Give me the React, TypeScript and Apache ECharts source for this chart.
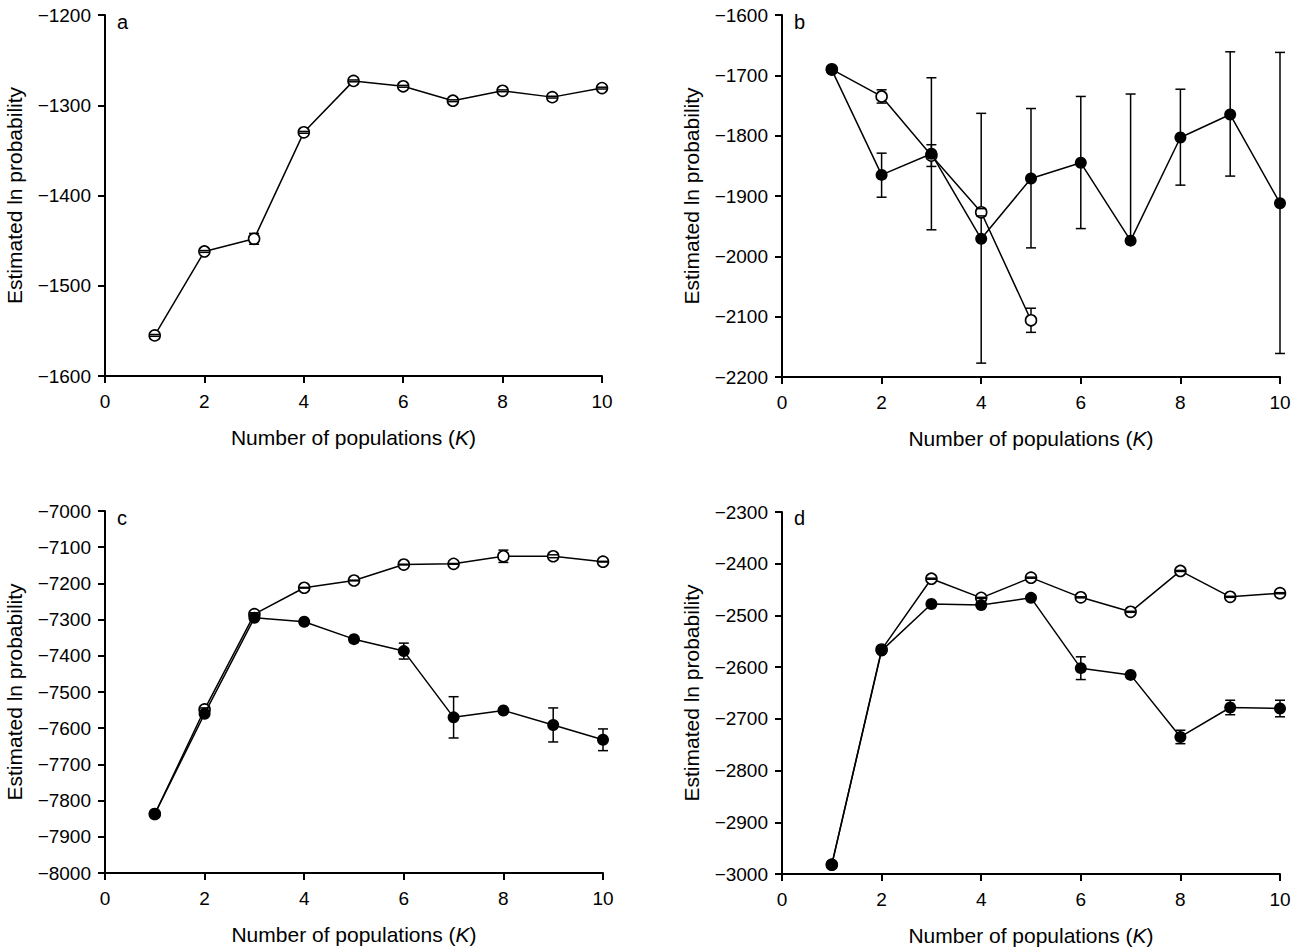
import React, { useEffect, useRef } from "react";
import * as echarts from "echarts";

const K = [1, 2, 3, 4, 5, 6, 7, 8, 9, 10];

// Panel a
const aOpen = [-1555, -1462, -1448, -1330, -1273, -1279, -1295, -1284, -1291, -1281];
const aOpenErr = [1, 1, 6, 1, 1, 1, 1, 1, 1, 1];

// Panel b
const bFilled = [-1691, -1865, -1830, -1971, -1871, -1845, -1974, -1803, -1765, -1912];
const bFilledHigh = [-1689, -1829, -1704, -1763, -1755, -1735, -1731, -1723, -1661, -1662];
const bFilledLow = [-1693, -1902, -1956, -2177, -1986, -1954, -1974, -1882, -1867, -2161];
const bOpenK = [1, 2, 3, 4, 5];
const bOpen = [-1690, -1735, -1833, -1927, -2106];
const bOpenErr = [1, 11, 18, 6, 20];

// Panel c
const cOpen = [-7837, -7548, -7285, -7212, -7192, -7148, -7146, -7125, -7125, -7140];
const cOpenErr = [1, 4, 4, 1, 1, 1, 1, 17, 4, 1];
const cFilled = [-7837, -7560, -7295, -7306, -7354, -7387, -7570, -7551, -7591, -7632];
const cFilledErr = [1, 1, 1, 1, 1, 22, 57, 1, 47, 30];

// Panel d
const dOpen = [-2982, -2566, -2429, -2466, -2427, -2465, -2493, -2414, -2464, -2457];
const dOpenErr = [1, 1, 1, 1, 1, 1, 1, 1, 1, 1];
const dFilled = [-2982, -2568, -2478, -2480, -2466, -2602, -2615, -2735, -2678, -2680];
const dFilledErr = [1, 1, 1, 1, 1, 22, 1, 13, 14, 16];

const yRanges = [
  { min: -1600, max: -1200, interval: 100 },
  { min: -2200, max: -1600, interval: 100 },
  { min: -8000, max: -7000, interval: 100 },
  { min: -3000, max: -2300, interval: 100 },
];
const panelLetters = ["a", "b", "c", "d"];

const FONT = "'Liberation Sans', Arial, Helvetica, sans-serif";

const grids = [
  { left: 105, top: 15, width: 497, height: 361 },
  { left: 782, top: 15, width: 498, height: 362 },
  { left: 105, top: 511, width: 498, height: 362 },
  { left: 782, top: 512, width: 498, height: 362 },
];
const letterPos = [
  [117, 12],
  [794, 12],
  [117, 508],
  [794, 508],
];

function symErr(ks: number[], vals: number[], errs: number[]) {
  return ks.map((k, i) => [k, vals[i] - errs[i], vals[i] + errs[i]]);
}
function asymErr(ks: number[], low: number[], high: number[]) {
  return ks.map((k, i) => [k, low[i], high[i]]);
}

function stemSeries(idx: number, data: number[][]) {
  return {
    type: "custom",
    xAxisIndex: idx,
    yAxisIndex: idx,
    z: 1,
    silent: true,
    data,
    encode: { x: 0, y: [1, 2] },
    renderItem: (params: any, api: any) => {
      const x = api.value(0);
      const lo = api.coord([x, api.value(1)]);
      const hi = api.coord([x, api.value(2)]);
      return {
        type: "line",
        shape: { x1: lo[0], y1: lo[1], x2: hi[0], y2: hi[1] },
        style: { stroke: "#000", lineWidth: 1.5 },
      };
    },
  };
}
function capSeries(idx: number, data: number[][], topOnly = false) {
  return {
    type: "custom",
    xAxisIndex: idx,
    yAxisIndex: idx,
    z: 5,
    silent: true,
    data,
    encode: { x: 0, y: [1, 2] },
    renderItem: (params: any, api: any) => {
      const x = api.value(0);
      const lo = api.coord([x, api.value(1)]);
      const hi = api.coord([x, api.value(2)]);
      const w = 5;
      const children: any[] = [
        {
          type: "line",
          shape: { x1: hi[0] - w, y1: hi[1], x2: hi[0] + w, y2: hi[1] },
          style: { stroke: "#000", lineWidth: 1.5 },
        },
      ];
      if (!topOnly) {
        children.push({
          type: "line",
          shape: { x1: lo[0] - w, y1: lo[1], x2: lo[0] + w, y2: lo[1] },
          style: { stroke: "#000", lineWidth: 1.5 },
        });
      }
      return { type: "group", children };
    },
  };
}

function lineSeries(idx: number, ks: number[], vals: number[], filled: boolean) {
  return {
    type: "line",
    xAxisIndex: idx,
    yAxisIndex: idx,
    z: filled ? 3 : 2,
    data: ks.map((k, i) => [k, vals[i]]),
    symbol: "circle",
    symbolSize: filled ? 12 : 11,
    showSymbol: true,
    lineStyle: { color: "#000", width: 1.5 },
    itemStyle: filled
      ? { color: "#000", borderColor: "#000", borderWidth: 0 }
      : { color: "#fff", borderColor: "#000", borderWidth: 1.6 },
    emphasis: { disabled: true },
  };
}

const minus = (v: number) => String(v).replace("-", "\u2212");

export default function App() {
  const ref = useRef<HTMLDivElement>(null);
  useEffect(() => {
    if (!ref.current) return;
    const chart = echarts.init(ref.current, undefined, { renderer: "svg" });

    const xAxes = grids.map((_, i) => ({
      type: "value",
      gridIndex: i,
      min: 0,
      max: 10,
      interval: 2,
      name: "Number of populations ({k|K})",
      nameLocation: "middle",
      nameGap: 51,
      nameTextStyle: {
        color: "#000",
        fontSize: 21,
        fontFamily: FONT,
        rich: { k: { fontStyle: "italic", fontSize: 21, fontFamily: FONT, color: "#000" } },
      },
      axisLine: { show: true, onZero: false, lineStyle: { color: "#000", width: 2 } },
      axisTick: { show: true, length: 7, lineStyle: { color: "#000", width: 2 } },
      axisLabel: { color: "#000", fontSize: 19, fontFamily: FONT, margin: 16 },
      splitLine: { show: false },
    }));
    const yAxes = grids.map((_, i) => ({
      type: "value",
      gridIndex: i,
      min: yRanges[i].min,
      max: yRanges[i].max,
      interval: yRanges[i].interval,
      name: "Estimated ln probability",
      nameLocation: "middle",
      nameGap: 80,
      nameTextStyle: { color: "#000", fontSize: 21, fontFamily: FONT },
      axisLine: { show: true, onZero: false, lineStyle: { color: "#000", width: 2 } },
      axisTick: { show: true, length: 7, lineStyle: { color: "#000", width: 2 } },
      axisLabel: {
        color: "#000",
        fontSize: 19,
        fontFamily: FONT,
        margin: 14,
        formatter: (v: number) => minus(v),
      },
      splitLine: { show: false },
    }));

    const bAll = asymErr(K, bFilledLow, bFilledHigh);
    const series: any[] = [
      // a
      stemSeries(0, symErr(K, aOpen, aOpenErr)),
      lineSeries(0, K, aOpen, false),
      capSeries(0, symErr(K, aOpen, aOpenErr)),
      // b
      stemSeries(1, symErr(bOpenK, bOpen, bOpenErr)),
      stemSeries(1, bAll),
      lineSeries(1, bOpenK, bOpen, false),
      lineSeries(1, K, bFilled, true),
      capSeries(1, symErr(bOpenK, bOpen, bOpenErr)),
      capSeries(1, bAll.filter((d, i) => bFilledLow[i] !== bFilled[i])),
      capSeries(1, bAll.filter((d, i) => bFilledLow[i] === bFilled[i]), true),
      // c
      stemSeries(2, symErr(K, cOpen, cOpenErr)),
      stemSeries(2, symErr(K, cFilled, cFilledErr)),
      lineSeries(2, K, cOpen, false),
      lineSeries(2, K, cFilled, true),
      capSeries(2, symErr(K, cOpen, cOpenErr)),
      capSeries(2, symErr(K, cFilled, cFilledErr)),
      // d
      stemSeries(3, symErr(K, dOpen, dOpenErr)),
      stemSeries(3, symErr(K, dFilled, dFilledErr)),
      lineSeries(3, K, dOpen, false),
      lineSeries(3, K, dFilled, true),
      capSeries(3, symErr(K, dOpen, dOpenErr)),
      capSeries(3, symErr(K, dFilled, dFilledErr)),
    ];

    chart.setOption({
      animation: false,
      backgroundColor: "#fff",
      grid: grids.map((g) => ({ ...g, containLabel: false })),
      xAxis: xAxes,
      yAxis: yAxes,
      graphic: panelLetters.map((t, i) => ({
        type: "text",
        left: letterPos[i][0],
        top: letterPos[i][1],
        style: { text: t, fill: "#000", font: `20px ${FONT}` },
      })),
      series,
    });
    return () => chart.dispose();
  }, []);
  return (
    <div
      ref={ref}
      style={{ position: "absolute", left: 0, top: 0, width: 1301, height: 949, background: "#fff" }}
    />
  );
}
